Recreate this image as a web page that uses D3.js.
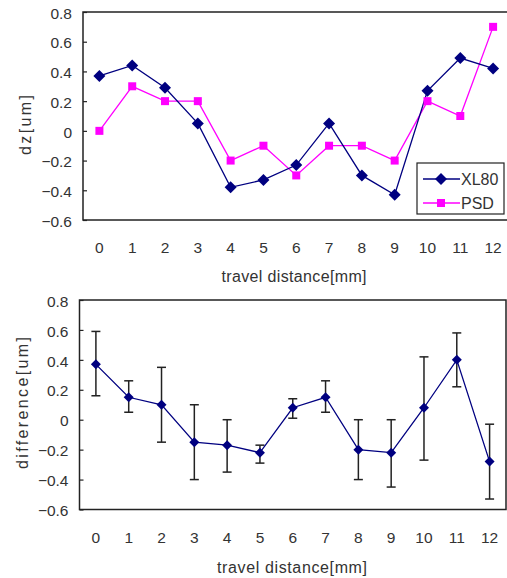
<!DOCTYPE html>
<html><head><meta charset="utf-8">
<script src="https://cdn.jsdelivr.net/npm/d3@7"></script>
<style>body{margin:0;background:#fff}svg{display:block}</style>
</head><body>
<svg id="c" width="507" height="578"></svg>
<script>
const categories = ["0","1","2","3","4","5","6","7","8","9","10","11","12"];
const xl80 = [0.37,0.44,0.29,0.05,-0.38,-0.33,-0.23,0.05,-0.30,-0.43,0.27,0.49,0.42];
const psd  = [0.00,0.30,0.20,0.20,-0.20,-0.10,-0.30,-0.10,-0.10,-0.20,0.20,0.10,0.70];
const diff = [0.37,0.15,0.10,-0.15,-0.17,-0.22,0.08,0.15,-0.20,-0.22,0.08,0.40,-0.28];
const diffHi = [0.59,0.26,0.35,0.10,0.00,-0.17,0.14,0.26,0.00,0.00,0.42,0.58,-0.03];
const diffLo = [0.16,0.05,-0.15,-0.40,-0.35,-0.29,0.01,0.05,-0.40,-0.45,-0.27,0.22,-0.53];
const yTicks = [0.8,0.6,0.4,0.2,0,-0.2,-0.4,-0.6];
const xTitle = "travel distance[mm]";

const svg = d3.select("#c");
const FONT = "'Liberation Sans', Arial, sans-serif";
const fmt = v => (v < 0 ? "\u2212" : "") + (v === 0 ? "0" : Math.abs(v).toFixed(1));

function panel(cfg) {
  const g = svg.append("g");
  const x = d3.scaleBand().domain(categories).range([cfg.left, cfg.right]);
  const y = d3.scaleLinear().domain([-0.6, 0.8]).range([cfg.bottom, cfg.top]);
  const cx = c => x(c) + x.bandwidth() / 2;
  g.append("rect").attr("x", cfg.left).attr("y", cfg.top)
    .attr("width", cfg.right - cfg.left).attr("height", cfg.bottom - cfg.top)
    .attr("fill", "none").attr("stroke", "#222").attr("stroke-width", 1.5);
  const ya = d3.axisLeft(y).tickValues(yTicks).tickSize(-4).tickPadding(11).tickFormat(fmt);
  const yg = g.append("g").attr("transform", `translate(${cfg.left},0)`).call(ya);
  yg.select(".domain").remove();
  yg.selectAll(".tick line").attr("stroke", "#222").attr("stroke-width", 1.2);
  yg.selectAll(".tick text").attr("font-family", FONT).attr("font-size", 15.5).attr("fill", "#333").attr("dy", "0.4em");
  const xa = d3.axisBottom(x).tickSize(0).tickPadding(0);
  const xg = g.append("g").attr("transform", `translate(0,${cfg.xLabelY})`).call(xa);
  xg.select(".domain").remove();
  xg.selectAll(".tick text").attr("font-family", FONT).attr("font-size", 15.5).attr("fill", "#333").attr("dy", "0.35em");
  g.append("text").attr("x", cfg.xTitleX).attr("y", cfg.xTitleY).attr("text-anchor", "middle")
    .attr("font-family", FONT).attr("font-size", 16).attr("fill", "#333").attr("dy", "0.35em")
    .attr("textLength", cfg.xTitleLen).attr("lengthAdjust", "spacing").text(xTitle);
  g.append("text").attr("transform", `translate(${cfg.yTitleX},${cfg.yTitleY}) rotate(-90)`)
    .attr("text-anchor", "middle").attr("font-family", FONT).attr("font-size", 16).attr("fill", "#333")
    .attr("dy", "0.35em").attr("textLength", cfg.yTitleLen).attr("lengthAdjust", "spacing").text(cfg.yTitle);
  return {g, x, y, cx};
}

const p1 = panel({left: 83, right: 509.5, top: 12, bottom: 220, xLabelY: 248, xTitleX: 294, xTitleY: 276, xTitleLen: 145, yTitleX: 25, yTitleY: 125, yTitle: "dz[um]", yTitleLen: 60});
const line1 = d3.line().x((d, i) => p1.cx(categories[i])).y(d => p1.y(d));
p1.g.append("path").datum(psd).attr("d", line1).attr("fill", "none").attr("stroke", "#ff00ff").attr("stroke-width", 1.3);
p1.g.append("path").datum(xl80).attr("d", line1).attr("fill", "none").attr("stroke", "#000080").attr("stroke-width", 1.3);
p1.g.selectAll(".sq").data(psd).join("rect").attr("class", "sq")
  .attr("x", (d, i) => p1.cx(categories[i]) - 4).attr("y", d => p1.y(d) - 4)
  .attr("width", 8).attr("height", 8).attr("fill", "#ff00ff");
const diamond = s => `M0,${-s}L${s},0L0,${s}L${-s},0Z`;
p1.g.selectAll(".dm").data(xl80).join("path").attr("class", "dm")
  .attr("transform", (d, i) => `translate(${p1.cx(categories[i])},${p1.y(d)})`)
  .attr("d", diamond(6)).attr("fill", "#000080");

const lg = svg.append("g");
lg.append("rect").attr("x", 417).attr("y", 163).attr("width", 87).attr("height", 51)
  .attr("fill", "#fff").attr("stroke", "#222").attr("stroke-width", 1.2);
const legendItems = [{name: "XL80", color: "#000080", shape: "d"}, {name: "PSD", color: "#ff00ff", shape: "s"}];
legendItems.forEach((it, i) => {
  const yy = 179 + i * 24;
  lg.append("line").attr("x1", 423).attr("x2", 460).attr("y1", yy).attr("y2", yy).attr("stroke", it.color).attr("stroke-width", 1.3);
  if (it.shape === "d") lg.append("path").attr("transform", `translate(441,${yy})`).attr("d", diamond(6)).attr("fill", it.color);
  else lg.append("rect").attr("x", 437).attr("y", yy - 4).attr("width", 8).attr("height", 8).attr("fill", it.color);
  lg.append("text").attr("x", 461).attr("y", yy).attr("dy", "0.35em").attr("font-family", FONT)
    .attr("font-size", 16).attr("fill", "#333").text(it.name);
});

const p2 = panel({left: 79.5, right: 506, top: 300, bottom: 509.5, xLabelY: 538, xTitleX: 292, xTitleY: 567, xTitleLen: 150, yTitleX: 22, yTitleY: 403, yTitle: "difference[um]", yTitleLen: 132});
const eb = p2.g.append("g");
categories.forEach((c, i) => {
  const xx = p2.cx(c);
  eb.append("line").attr("x1", xx).attr("x2", xx).attr("y1", p2.y(diffHi[i])).attr("y2", p2.y(diffLo[i])).attr("stroke", "#222").attr("stroke-width", 1.5);
  [diffHi[i], diffLo[i]].forEach(v => eb.append("line").attr("x1", xx - 4.5).attr("x2", xx + 4.5)
    .attr("y1", p2.y(v)).attr("y2", p2.y(v)).attr("stroke", "#222").attr("stroke-width", 1.5));
});
const line2 = d3.line().x((d, i) => p2.cx(categories[i])).y(d => p2.y(d));
p2.g.append("path").datum(diff).attr("d", line2).attr("fill", "none").attr("stroke", "#000080").attr("stroke-width", 1.3);
p2.g.selectAll(".dm").data(diff).join("path").attr("class", "dm")
  .attr("transform", (d, i) => `translate(${p2.cx(categories[i])},${p2.y(d)})`)
  .attr("d", diamond(5)).attr("fill", "#000080");
</script>
</body></html>
